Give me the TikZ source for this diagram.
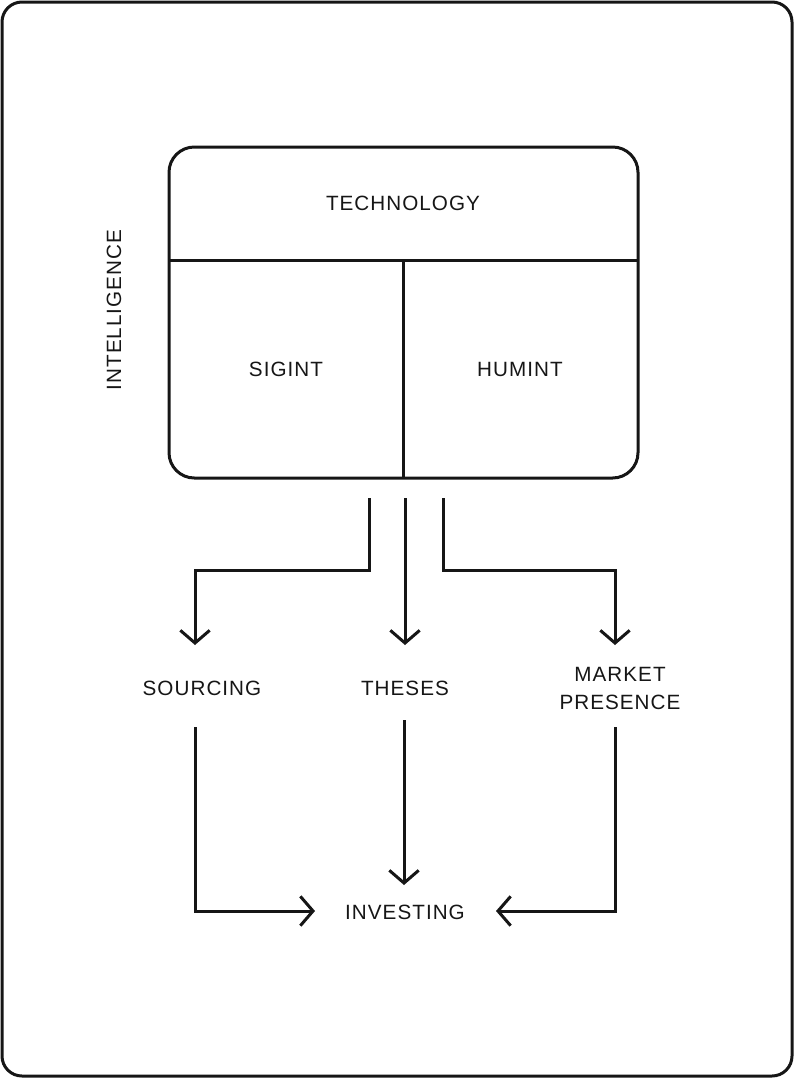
\documentclass[tikz,border=0pt]{standalone}
\usepackage{fontspec}
\setmainfont{Liberation Sans}[LetterSpace=5]
\usetikzlibrary{arrows.meta}
\definecolor{ink}{HTML}{161616}
\begin{document}
\begin{tikzpicture}[x=0.75pt,y=-0.75pt,
  line/.style={draw=ink,line width=2.25pt},
  conn/.style={line,-{Straight Barb[length=9.5pt,width=22pt,line width=2.25pt]}},
  lbl/.style={text=ink,font=\fontsize{15.5}{21}\selectfont,inner sep=0pt,align=center}]
\useasboundingbox (0,0) rectangle (794,1078);
% outer frame
\draw[line,rounded corners=15pt] (2,2) rectangle (792,1076);
% main box
\draw[line,rounded corners=19pt] (169,147) rectangle (638,478);
\draw[line] (169,260) -- (638,260);
\draw[line] (403,260) -- (403,478);
% labels
\node[lbl] (tech) at (403,203) {TECHNOLOGY};
\node[lbl] (sigint) at (286,369) {SIGINT};
\node[lbl] (humint) at (520,369) {HUMINT};
\node[lbl,rotate=90] (intel) at (114,310) {INTELLIGENCE};
\node[lbl] (sourcing) at (202,688) {SOURCING};
\node[lbl] (theses) at (405,688) {THESES};
\node[lbl] (market) at (620,688) {MARKET\\PRESENCE};
\node[lbl] (investing) at (405,912) {INVESTING};
% connector coordinates
\coordinate (a1) at (369,498);
\coordinate (a2) at (405,498);
\coordinate (a3) at (443,498);
\coordinate (t1) at (195,645);
\coordinate (t2) at (405,645);
\coordinate (t3) at (615,645);
\coordinate (b1) at (195,727);
\coordinate (b2) at (404,720);
\coordinate (b3) at (615,727);
\coordinate (i1) at (315,911);
\coordinate (i2) at (404,885);
\coordinate (i3) at (496,911);
% connectors top
\draw[conn] (a1) -- (369,570) -| (t1);
\draw[conn] (a2) -- (t2);
\draw[conn] (a3) -- (443,570) -| (t3);
% connectors bottom
\draw[conn] (b1) |- (i1);
\draw[conn] (b2) -- (i2);
\draw[conn] (b3) |- (i3);
\end{tikzpicture}
\end{document}
